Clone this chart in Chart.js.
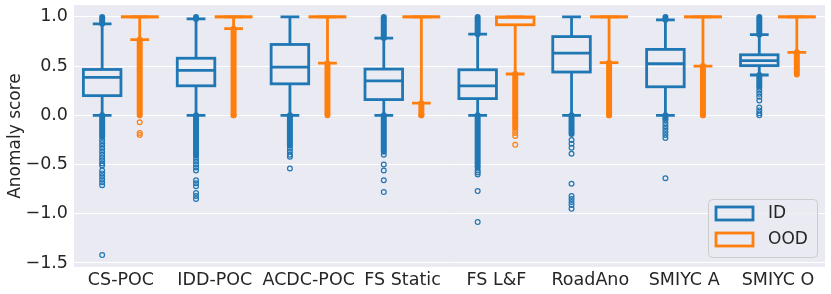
<!DOCTYPE html>
<html>
<head>
<meta charset="utf-8">
<script src="https://cdn.jsdelivr.net/npm/chart.js@4/dist/chart.umd.min.js"></script>
<style>
    html, body { margin: 0; padding: 0; background: #ffffff; }
    #wrap { width: 831px; height: 294px; position: relative; }
</style>
</head>
<body>
<div id="wrap"><canvas id="myChart"></canvas></div>
<script>
var categories = ['CS-POC', 'IDD-POC', 'ACDC-POC', 'FS Static', 'FS L&F', 'RoadAno', 'SMIYC A', 'SMIYC O'];
var yTicks = [-1.5, -1.0, -0.5, 0.0, 0.5, 1.0];

// ID (in-distribution) boxes
var idQ1 = [0.20, 0.30, 0.32, 0.16, 0.17, 0.44, 0.29, 0.505];
var idMedian = [0.385, 0.456, 0.49, 0.35, 0.30, 0.632, 0.524, 0.555];
var idQ3 = [0.466, 0.58, 0.72, 0.47, 0.463, 0.80, 0.67, 0.615];
var idWhiskerLo = [0.0, 0.0, 0.0, 0.0, 0.0, 0.0, 0.0, 0.41];
var idWhiskerHi = [0.93, 0.98, 1.0, 0.785, 0.825, 1.0, 0.97, 0.82];
// ranges packed so densely with fliers they look solid
var idBands = [
    [[0.93, 1.0], [-0.22, 0.0]],
    [[0.98, 1.0], [-0.41, 0.0]],
    [[-0.31, 0.0]],
    [[0.785, 1.0], [-0.37, 0.0]],
    [[0.825, 1.0], [-0.53, 0.0]],
    [[-0.19, 0.0]],
    [[0.97, 1.0], [-0.03, 0.0]],
    [[0.82, 1.0], [0.30, 0.41]]
];
var idOutliers = [
    [-0.25, -0.28, -0.31, -0.34, -0.37, -0.40, -0.43, -0.46, -0.49, -0.51, -0.56, -0.59, -0.62, -0.65, -0.68, -0.71, -1.42],
    [-0.44, -0.47, -0.50, -0.53, -0.56, -0.66, -0.69, -0.72, -0.79, -0.82, -0.85],
    [-0.34, -0.37, -0.40, -0.42, -0.54],
    [-0.40, -0.50, -0.56, -0.66, -0.78],
    [-0.56, -0.58, -0.60, -0.77, -1.085],
    [-0.25, -0.29, -0.33, -0.39, -0.695, -0.82, -0.85, -0.88, -0.91, -0.95],
    [-0.05, -0.08, -0.11, -0.14, -0.17, -0.20, -0.23, -0.64],
    [0.28, 0.25, 0.22, 0.19, 0.15, 0.08, 0.05, 0.02, 0.0]
];

// OOD (out-of-distribution) boxes
var oodQ1 = [1.0, 1.0, 1.0, 1.0, 0.92, 1.0, 1.0, 1.0];
var oodMedian = [1.0, 1.0, 1.0, 1.0, 0.995, 1.0, 1.0, 1.0];
var oodQ3 = [1.0, 1.0, 1.0, 1.0, 1.0, 1.0, 1.0, 1.0];
var oodWhiskerLo = [0.77, 0.88, 0.53, 0.124, 0.42, 0.535, 0.50, 0.64];
var oodWhiskerHi = [1.0, 1.0, 1.0, 1.0, 1.0, 1.0, 1.0, 1.0];
var oodBands = [
    [[0.0, 0.77]],
    [[0.0, 0.88]],
    [[0.0, 0.53]],
    [[0.0, 0.124]],
    [[-0.12, 0.42]],
    [[0.0, 0.535]],
    [[0.0, 0.50]],
    [[0.415, 0.64]]
];
var oodOutliers = [
    [-0.07, -0.18, -0.20],
    [0.0],
    [],
    [0.0],
    [-0.15, -0.18, -0.21, -0.30],
    [0.0],
    [0.0],
    []
];

var blue = '#1f77b4';
var orange = '#ff7f0e';
var textColor = '#262626';

var series = [
    { label: 'ID', color: blue, q1: idQ1, med: idMedian, q3: idQ3, lo: idWhiskerLo, hi: idWhiskerHi, bands: idBands, out: idOutliers },
    { label: 'OOD', color: orange, q1: oodQ1, med: oodMedian, q3: oodQ3, lo: oodWhiskerLo, hi: oodWhiskerHi, bands: oodBands, out: oodOutliers }
];

var lw = 2.8;

var boxPlugin = {
    id: 'boxExtras',
    beforeDraw: function (chart) {
        var a = chart.chartArea;
        var ctx = chart.ctx;
        ctx.save();
        ctx.fillStyle = '#eaeaf2';
        ctx.fillRect(a.left, a.top, a.right - a.left, a.bottom - a.top);
        ctx.restore();
    },
    afterDatasetsDraw: function (chart) {
        var ctx = chart.ctx;
        var y = chart.scales.y;
        ctx.save();
        series.forEach(function (s, si) {
            var meta = chart.getDatasetMeta(si);
            meta.data.forEach(function (bar, i) {
                var p = bar.getProps(['x', 'width'], true);
                var cx = p.x, w = p.width;
                ctx.strokeStyle = s.color;

                // flier bands
                ctx.lineWidth = 6;
                ctx.lineCap = 'round';
                s.bands[i].forEach(function (b) {
                    ctx.beginPath();
                    ctx.moveTo(cx, y.getPixelForValue(b[0]));
                    ctx.lineTo(cx, y.getPixelForValue(b[1]));
                    ctx.stroke();
                });
                ctx.lineCap = 'butt';

                // box outline
                ctx.lineWidth = lw;
                var yq1 = y.getPixelForValue(s.q1[i]);
                var yq3 = y.getPixelForValue(s.q3[i]);
                ctx.strokeRect(cx - w / 2, yq3, w, yq1 - yq3);

                // whiskers
                var ylo = y.getPixelForValue(s.lo[i]);
                var yhi = y.getPixelForValue(s.hi[i]);
                ctx.beginPath();
                ctx.moveTo(cx, yq1); ctx.lineTo(cx, ylo);
                ctx.moveTo(cx, yq3); ctx.lineTo(cx, yhi);
                ctx.moveTo(cx - w / 4, ylo); ctx.lineTo(cx + w / 4, ylo);
                ctx.moveTo(cx - w / 4, yhi); ctx.lineTo(cx + w / 4, yhi);
                ctx.stroke();

                // median
                var ym = y.getPixelForValue(s.med[i]);
                ctx.beginPath();
                ctx.moveTo(cx - w / 2, ym); ctx.lineTo(cx + w / 2, ym);
                ctx.stroke();

                // single fliers
                ctx.lineWidth = 1.2;
                s.out[i].forEach(function (v) {
                    ctx.beginPath();
                    ctx.arc(cx, y.getPixelForValue(v), 2.4, 0, Math.PI * 2);
                    ctx.stroke();
                });
            });
        });
        ctx.restore();
    },
    afterDraw: function (chart) {
        // legend, lower right of the plot
        var ctx = chart.ctx;
        var a = chart.chartArea;
        var bx = a.right - 117, by = a.bottom - 68, bw = 109, bh = 58;
        ctx.save();
        ctx.fillStyle = 'rgba(234,234,242,0.8)';
        ctx.strokeStyle = '#cccccc';
        ctx.lineWidth = 1;
        ctx.beginPath();
        ctx.roundRect(bx + 0.5, by + 0.5, bw, bh, 4);
        ctx.fill();
        ctx.stroke();
        ctx.font = '17px "DejaVu Sans"';
        ctx.textBaseline = 'middle';
        series.forEach(function (s, k) {
            var ry = by + 8 + k * 26;
            ctx.strokeStyle = s.color;
            ctx.lineWidth = lw;
            ctx.strokeRect(bx + 8, ry, 37, 13);
            ctx.fillStyle = textColor;
            ctx.fillText(s.label, bx + 60, ry + 7);
        });
        ctx.restore();
    }
};

var ctx = document.getElementById('myChart');

var data = {
    labels: categories,
    datasets: series.map(function (s) {
        return {
            label: s.label,
            data: s.q1.map(function (v, i) { return [v, s.q3[i]]; }),
            backgroundColor: 'rgba(0,0,0,0)',
            borderWidth: 0,
            categoryPercentage: 0.8,
            barPercentage: 1.0
        };
    })
};

var option = {
    responsive: true,
    maintainAspectRatio: false,
    animation: false,
    layout: { padding: { left: 0, right: 6, top: 5, bottom: 0 } },
    plugins: {
        legend: { display: false },
        tooltip: { enabled: false }
    },
    scales: {
        x: {
            grid: { display: false, drawTicks: false },
            border: { display: false },
            ticks: {
                color: textColor,
                font: { family: 'DejaVu Sans', size: 17.5 },
                padding: 3,
                maxRotation: 0,
                autoSkip: false
            },
            afterFit: function (s) {
                s.height = 27;
                s.paddingLeft = 0;
                s.paddingRight = 0;
            }
        },
        y: {
            min: -1.541,
            max: 1.121,
            grid: { color: '#ffffff', lineWidth: 1, drawTicks: false },
            border: { display: false },
            afterBuildTicks: function (s) {
                s.ticks = yTicks.map(function (v) { return { value: v }; });
            },
            ticks: {
                color: textColor,
                font: { family: 'DejaVu Sans', size: 17.5 },
                padding: 6,
                callback: function (v) {
                    var t = Math.abs(v).toFixed(1);
                    return v < 0 ? '\u2212' + t : t;
                }
            },
            title: {
                display: true,
                text: 'Anomaly score',
                color: textColor,
                font: { family: 'DejaVu Sans', size: 17 },
                padding: { top: 5, bottom: 0 }
            },
            afterFit: function (s) {
                s.width = 74;
                s.paddingTop = 0;
                s.paddingBottom = 0;
            }
        }
    }
};

var myChart = new Chart(ctx, {
    type: 'bar',
    data: data,
    options: option,
    plugins: [boxPlugin]
});
</script>
</body>
</html>
